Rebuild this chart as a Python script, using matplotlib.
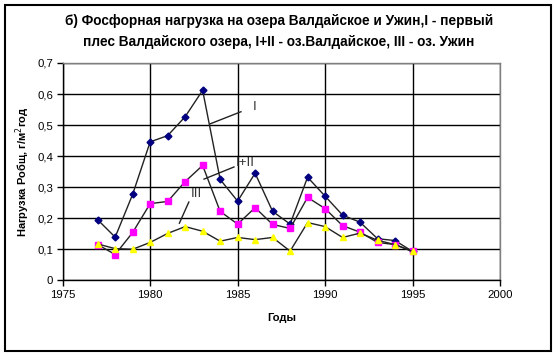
import matplotlib
matplotlib.use("Agg")
import matplotlib.pyplot as plt
from matplotlib.patches import Rectangle

plt.rcParams['font.family'] = ['Liberation Sans', 'DejaVu Sans']

years = list(range(1977, 1996))
series_I = [0.195, 0.139, 0.277, 0.446, 0.466, 0.527, 0.612, 0.325, 0.255, 0.345,
            0.222, 0.181, 0.332, 0.271, 0.210, 0.187, 0.134, 0.128, 0.093]
series_I_II = [0.115, 0.083, 0.154, 0.247, 0.254, 0.318, 0.370, 0.222, 0.181, 0.234,
               0.180, 0.167, 0.267, 0.231, 0.176, 0.155, 0.122, 0.115, 0.093]
series_III = [0.117, 0.102, 0.100, 0.122, 0.151, 0.173, 0.158, 0.126, 0.138, 0.131,
              0.138, 0.094, 0.186, 0.173, 0.138, 0.152, 0.129, 0.115, 0.093]

x_ticks = [1975, 1980, 1985, 1990, 1995, 2000]
y_ticks = [0, 0.1, 0.2, 0.3, 0.4, 0.5, 0.6, 0.7]
y_tick_labels = ['0', '0,1', '0,2', '0,3', '0,4', '0,5', '0,6', '0,7']

title = "б) Фосфорная нагрузка на озера Валдайское и Ужин,I - первый\nплес Валдайского озера, I+II - оз.Валдайское, III - оз. Ужин"
xlabel = "Годы"
ylabel = "Нагрузка Робщ, г/м$^2$год"

W, H = 556, 356
fig = plt.figure(figsize=(W / 100, H / 100), dpi=100)
fig.patch.set_facecolor('white')

x0, x1, y0, y1 = 62.7, 500, 63, 280.3
ax = fig.add_axes([x0 / W, (H - y1) / H, (x1 - x0) / W, (y1 - y0) / H])

ax.set_xlim(1975, 2000)
ax.set_ylim(0, 0.7)
ax.set_xticks(x_ticks)
ax.set_xticklabels([str(t) for t in x_ticks])
ax.set_yticks(y_ticks)
ax.set_yticklabels(y_tick_labels)
ax.tick_params(axis='both', direction='out', length=4, width=1, color='black',
               labelsize=8.2, pad=3)
ax.grid(True, color='black', linewidth=1)
ax.set_axisbelow(True)
for s in ['left', 'bottom']:
    ax.spines[s].set_color('black')
    ax.spines[s].set_linewidth(1)
for s in ['top', 'right']:
    ax.spines[s].set_color('#808080')
    ax.spines[s].set_linewidth(1)

ax.plot(years, series_I, color='#222222', linewidth=1, marker='D', markersize=3.5,
        markerfacecolor='#000080', markeredgecolor='#000080', zorder=3)
ax.plot(years, series_I_II, color='#222222', linewidth=1, marker='s', markersize=5,
        markerfacecolor='#FF00FF', markeredgecolor='#FF00FF', zorder=4)
ax.plot(years, series_III, color='#222222', linewidth=1, marker='^', markersize=5,
        markerfacecolor='#FFFF00', markeredgecolor='#FFFF00', zorder=5)

# annotations
ax.plot([1983.43, 1985.19], [0.504, 0.543], color='#222222', linewidth=1, zorder=6)
ax.text(1985.95, 0.559, "I", fontsize=9.5, ha='center', va='center', color='#333333')
ax.plot([1983.08, 1984.79], [0.326, 0.365], color='#222222', linewidth=1, zorder=6)
ax.text(1985.45, 0.377, "I+II", fontsize=9.5, ha='center', va='center', color='#333333')
ax.plot([1981.67, 1982.21], [0.184, 0.252], color='#222222', linewidth=1, zorder=6)
ax.text(1982.62, 0.277, "III", fontsize=9.5, ha='center', va='center', color='#333333')

fig.text(279 / W, 1 - 31.5 / H, title, fontsize=9.8, fontweight='bold', ha='center',
         va='center', linespacing=1.55)
ax.set_xlabel(xlabel, fontsize=8, fontweight='bold', labelpad=9)
ax.set_ylabel(ylabel, fontsize=8, fontweight='bold', labelpad=4)

fig.add_artist(Rectangle((5 / W, 5 / H), 546 / W, 346 / H, transform=fig.transFigure,
                         fill=False, edgecolor='black', linewidth=1.5))

fig.savefig('out.png', dpi=100)
